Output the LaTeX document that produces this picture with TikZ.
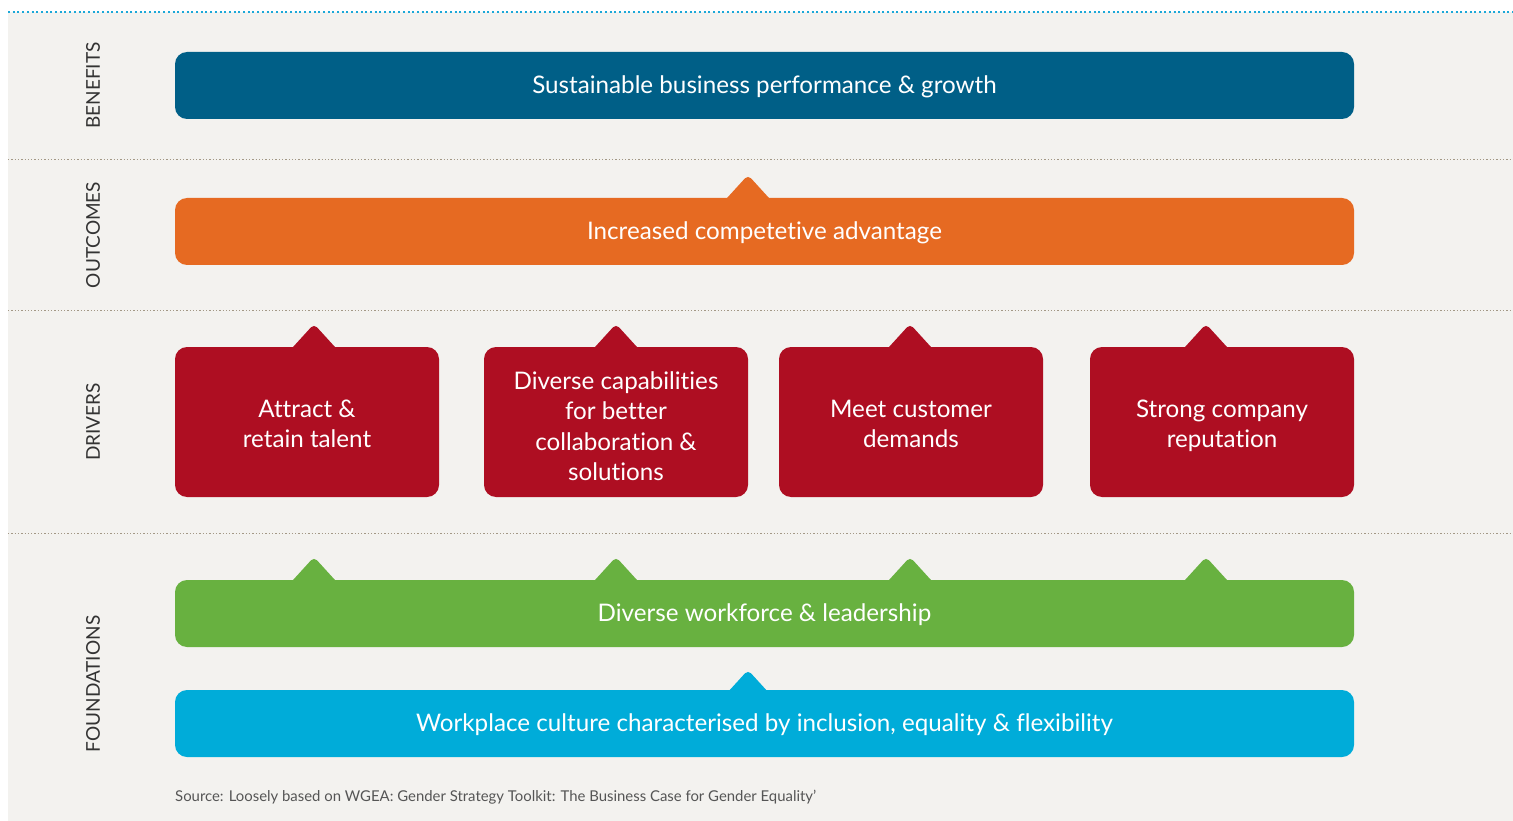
\documentclass[tikz,border=0pt]{standalone}
\usepackage{fontspec}
\setmainfont{Lato}[Ligatures=NoCommon]
\definecolor{bgc}{HTML}{F3F2EF}
\definecolor{topdot}{HTML}{1BA8D8}
\definecolor{divdot}{HTML}{A39886}
\definecolor{bluec}{HTML}{005F87}
\definecolor{orangec}{HTML}{E66A22}
\definecolor{redc}{HTML}{AE0E22}
\definecolor{greenc}{HTML}{68B140}
\definecolor{cyanc}{HTML}{00ACD9}
\definecolor{labc}{HTML}{333333}
\definecolor{srcc}{HTML}{555555}
\newcommand{\tabup}[3]{\fill[#1, rounded corners=4.5pt] (#2,#3) -- (#2+30.1,#3+33) -- (#2-30.1,#3+33) -- cycle;}
\tikzset{
  band/.style={rounded corners=12pt, minimum width=1179pt, minimum height=67pt, inner sep=0pt, text=white, text depth=2pt, font=\fontsize{24.2}{28}\selectfont},
  drv/.style={rounded corners=12pt, minimum width=264pt, minimum height=150pt, inner sep=0pt, fill=redc},
  drvtext/.style={text=white, align=center, font=\fontsize{24.2}{30.5}\selectfont, inner sep=0pt},
  sectlab/.style={rotate=90, text=labc, font=\fontsize{19}{22}\selectfont},
  divline/.style={divdot, line width=1.3pt, dash pattern=on 1.3pt off 2pt},
}
\begin{document}
\begin{tikzpicture}[x=1pt, y=-1pt]
\useasboundingbox (0,0) rectangle (1513,821);
\fill[bgc] (8,12) rectangle (1513,821);
\draw[topdot, line width=2pt, dash pattern=on 2pt off 2.7pt] (8,12) -- (1513,12);
\draw[divline] (8,159.5) -- (1513,159.5);
\draw[divline] (8,310.5) -- (1513,310.5);
\draw[divline] (8,533.5) -- (1513,533.5);
% section labels
\node[sectlab] (lb) at (93,85.5) {BENEFITS};
\node[sectlab] (lo) at (93,235) {OUTCOMES};
\node[sectlab] (ld) at (93,422) {DRIVERS};
\node[sectlab] (lf) at (93,684) {FOUNDATIONS};
% tabs
\tabup{orangec}{748}{175}
\tabup{redc}{314}{324}
\tabup{redc}{616}{324}
\tabup{redc}{910}{324}
\tabup{redc}{1206}{324}
\tabup{greenc}{314}{557}
\tabup{greenc}{616}{557}
\tabup{greenc}{910}{557}
\tabup{greenc}{1206}{557}
\tabup{cyanc}{748}{670}
% boxes
\node[band, fill=bluec] (ben) at (764.5,85.5) {Sustainable business performance \& growth};
\node[band, fill=orangec] (out) at (764.5,231.5) {Increased competetive advantage};
\node[drv] (d1) at (307,422) {};
\node[drv] (d2) at (616,422) {};
\node[drv] (d3) at (911,422) {};
\node[drv] (d4) at (1222,422) {};
\node[drvtext] (t1) at (307,424) {Attract \&\\retain talent};
\node[drvtext] (t2) at (616,426) {Diverse capabilities\\for better\\collaboration \&\\solutions};
\node[drvtext] (t3) at (911,424) {Meet customer\\demands};
\node[drvtext] (t4) at (1222,426) {Strong company\\reputation};
\node[band, fill=greenc] (grn) at (764.5,613.5) {Diverse workforce \& leadership};
\node[band, fill=cyanc] (cul) at (764.5,723.5) {Workplace culture characterised by inclusion, equality \& flexibility};
\node[anchor=west, text=srcc, font=\fontsize{14.9}{17}\selectfont, inner sep=0pt] (src) at (175,797) {Source: Loosely based on WGEA: Gender Strategy Toolkit: The Business Case for Gender Equality’};
\end{tikzpicture}
\end{document}
